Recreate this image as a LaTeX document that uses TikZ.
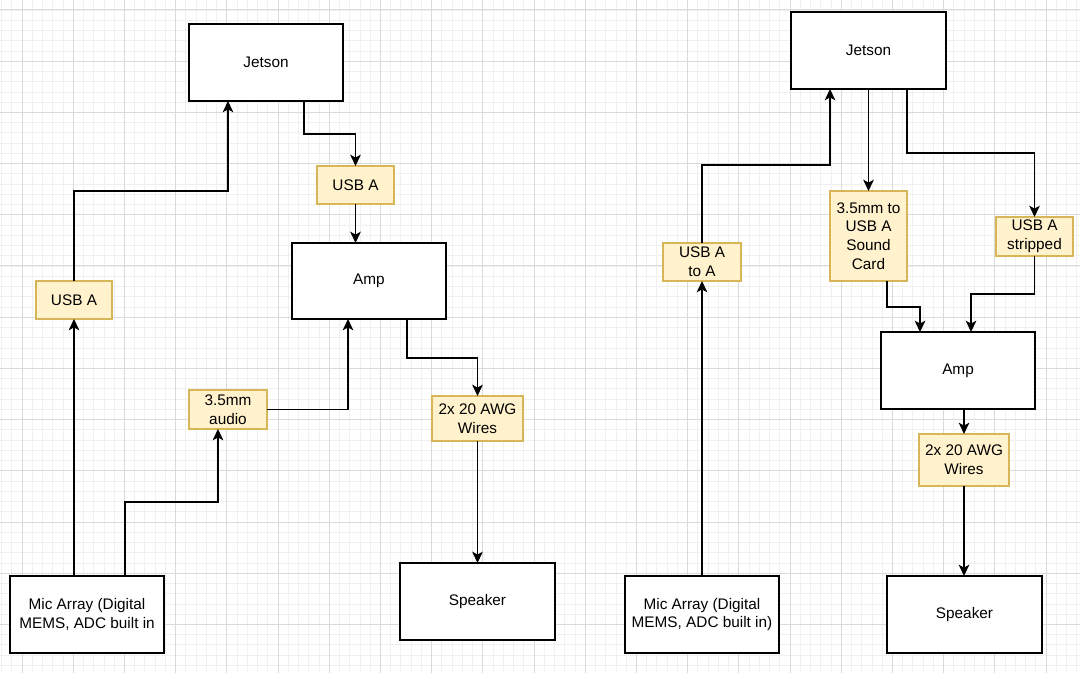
\documentclass[tikz,border=0pt]{standalone}
\usepackage{fontspec}
\setmainfont{Liberation Sans}
\usetikzlibrary{arrows.meta,calc}
\definecolor{gmaj}{HTML}{DADADA}
\definecolor{gmin}{HTML}{F0F0F0}
\definecolor{yfill}{HTML}{FFF2CC}
\definecolor{ydraw}{HTML}{D6B656}
\newcommand{\mkbox}[7]{%
  \node[#1, minimum width={(#5-#3)*0.75pt}, minimum height={(#6-#4)*0.75pt}]
    (#2) at ({(#3+#5)/2},{(#4+#6)/2}) {#7};}
\tikzset{
  base/.style={rectangle, inner sep=0pt, outer sep=0pt, align=center,
    font=\fontsize{11.5}{14}\selectfont, line width=1pt},
  whitebox/.style={base, draw=black, fill=white},
  tagbox/.style={base, draw=ydraw, fill=yfill},
  arr/.style={draw=black, line width=1pt,
    -{Stealth[length=8.5pt,width=8pt,inset=2.2pt]}},
}
\begin{document}
\begin{tikzpicture}[x=0.75pt,y=-0.75pt]
\useasboundingbox (0,0) rectangle (1080,673);
\fill[white] (0,0) rectangle (1080,673);
% grid
\foreach \i in {-2,...,103} {\draw[gmin,line width=0.6pt] ({22+\i*10.24},0) -- ({22+\i*10.24},673);}
\foreach \i in {-1,...,65} {\draw[gmin,line width=0.6pt] (0,{10+\i*10.24}) -- (1080,{10+\i*10.24});}
\foreach \i in {0,...,21} {\draw[gmaj,line width=0.75pt] ({22+\i*51.2},0) -- ({22+\i*51.2},673);}
\foreach \i in {0,...,13} {\draw[gmaj,line width=0.75pt] (0,{10+\i*51.2}) -- (1080,{10+\i*51.2});}

% ---- left diagram ----
\mkbox{whitebox}{jet1}{189}{24}{343}{101}{Jetson}
\mkbox{tagbox}{usbT}{317}{166}{394}{204}{USB A}
\mkbox{whitebox}{amp1}{292}{243}{446}{319}{Amp}
\mkbox{tagbox}{usbL}{36}{281}{112}{319}{USB A}
\mkbox{tagbox}{aud}{189}{390}{267}{429}{3.5mm\\audio}
\mkbox{whitebox}{mic1}{10}{576}{164}{653}{Mic Array (Digital\\MEMS, ADC built in}
\mkbox{tagbox}{wir1}{432}{396}{523}{441}{2x 20 AWG\\Wires}
\mkbox{whitebox}{spk1}{400}{563}{555}{640}{Speaker}

% ---- right diagram ----
\mkbox{whitebox}{mic2}{625}{576}{779}{653}{Mic Array (Digital\\MEMS, ADC built in)}
\mkbox{tagbox}{usbAA}{663}{243}{741}{281}{USB A\\to A}
\mkbox{whitebox}{jet2}{791}{12}{946}{89}{Jetson}
\mkbox{tagbox}{snd}{830}{191}{907}{281}{3.5mm to\\USB A\\Sound\\Card}
\mkbox{tagbox}{strp}{996}{217}{1073}{256}{USB A\\stripped}
\mkbox{whitebox}{amp2}{881}{332}{1035}{409}{Amp}
\mkbox{tagbox}{wir2}{919}{434}{1009}{486}{2x 20 AWG\\Wires}
\mkbox{whitebox}{spk2}{887}{576}{1042}{653}{Speaker}

% ---- left connectors ----
\draw[arr] (usbL.south |- mic1.north) -- (usbL.south);
\draw[arr] (usbL.north) -- ++(0,-90) -| ($(jet1.south west)+(39,0)$);
\draw[arr] ($(jet1.south west)+(115,0)$) -- ++(0,33) -| (usbT.north);
\draw[arr] (usbT.south) -- (usbT.south |- amp1.north);
\draw[arr] ($(mic1.north west)+(115,0)$) -- ++(0,-74) -| ($(aud.south west)+(29,0)$);
\draw[arr] (aud.east) -| ($(amp1.south west)+(56,0)$);
\draw[arr] ($(amp1.south west)+(115,0)$) -- ++(0,39) -| (wir1.north);
\draw[arr] (wir1.south) -- (wir1.south |- spk1.north);

% ---- right connectors ----
\draw[arr] (usbAA.south |- mic2.north) -- (usbAA.south);
\draw[arr] (usbAA.north) -- ++(0,-78) -| ($(jet2.south west)+(39,0)$);
\draw[arr] (snd.north |- jet2.south) -- (snd.north);
\draw[arr] ($(jet2.south west)+(116,0)$) -- ++(0,64) -| (strp.north);
\draw[arr] ($(snd.south west)+(57,0)$) -- ++(0,26) -| ($(amp2.north west)+(39,0)$);
\draw[arr] (strp.south) -- ++(0,38) -| ($(amp2.north west)+(90,0)$);
\draw[arr] (wir2.north |- amp2.south) -- (wir2.north);
\draw[arr] (wir2.south) -- (wir2.south |- spk2.north);
\end{tikzpicture}
\end{document}
